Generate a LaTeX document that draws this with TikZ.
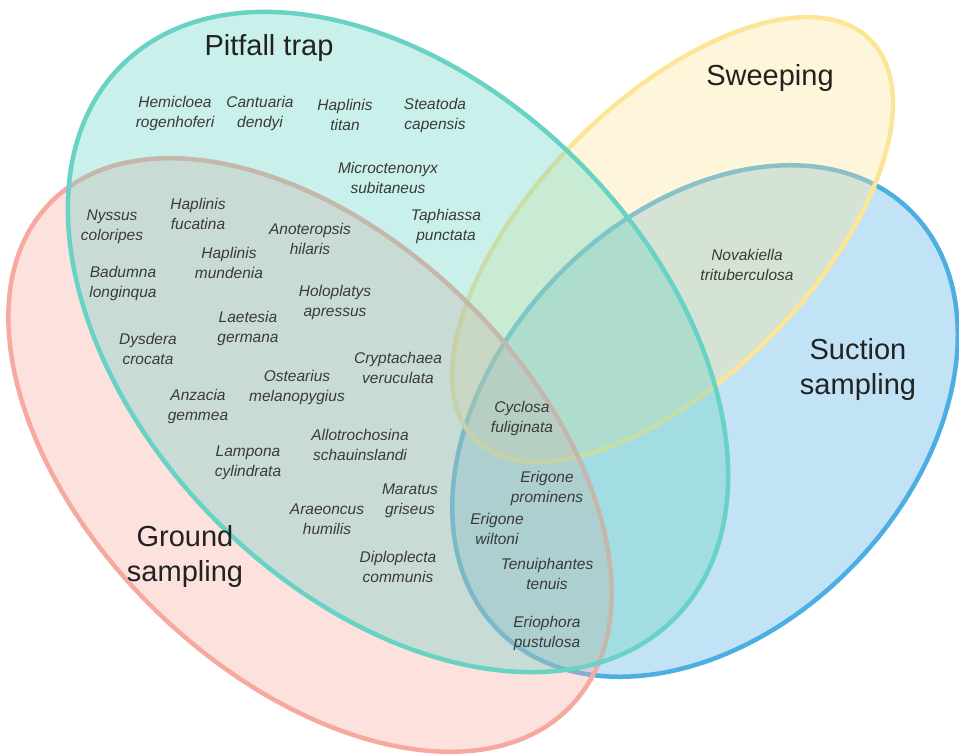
\documentclass[tikz,border=0pt]{standalone}
\usepackage{fontspec}
\setmainfont{Liberation Sans}
\definecolor{tealc}{HTML}{68D3C5}
\definecolor{redc}{HTML}{F7A99F}
\definecolor{yelc}{HTML}{FDE597}
\definecolor{bluec}{HTML}{4DAEE3}
\definecolor{txt}{HTML}{3A3A3A}
\definecolor{ttl}{HTML}{222222}
\begin{document}
\begin{tikzpicture}[x=1pt,y=1pt,
  setshape/.style={line width=4.5pt, fill opacity=0.35, draw opacity=1},
  species/.style={align=center, inner sep=0pt, text=txt,
    font=\fontsize{15.5}{20}\selectfont\itshape},
  settitle/.style={align=center, inner sep=0pt, text=ttl,
    font=\fontsize{29}{35}\selectfont}]
\useasboundingbox (0,0) rectangle (959,-755);
% sets
\draw[setshape, draw=bluec, fill=bluec, rotate around={46:(705,-421)}]
  (705,-421) ellipse [x radius=294pt, y radius=207pt];
\draw[setshape, draw=yelc, fill=yelc, rotate around={45.4:(672.5,-239.5)}]
  (672.5,-239.5) ellipse [x radius=281pt, y radius=138pt];
\draw[setshape, draw=redc, fill=redc, rotate around={-44:(310,-455)}]
  (310,-455) ellipse [x radius=362pt, y radius=219pt];
\draw[setshape, draw=tealc, fill=tealc, rotate around={-45:(398,-342)}]
  (398,-342) ellipse [x radius=391pt, y radius=255pt];
% titles
\node[settitle] (tpit) at (269,-48) {Pitfall trap};
\node[settitle] (tswe) at (770,-78) {Sweeping};
\node[settitle] (tsuc) at (858,-369) {Suction\\sampling};
\node[settitle] (tgro) at (185,-556) {Ground\\sampling};
% species
\node[species] (s1) at (175,-113) {Hemicloea\\rogenhoferi};
\node[species] (s2) at (260,-113) {Cantuaria\\dendyi};
\node[species] (s3) at (345,-115) {Haplinis\\titan};
\node[species] (s4) at (435,-115) {Steatoda\\capensis};
\node[species] (s5) at (388,-178) {Microctenonyx\\subitaneus};
\node[species] (s6) at (112,-227) {Nyssus\\coloripes};
\node[species] (s7) at (198,-214) {Haplinis\\fucatina};
\node[species] (s8) at (310,-239) {Anoteropsis\\hilaris};
\node[species] (s9) at (446,-226) {Taphiassa\\punctata};
\node[species] (s10) at (229,-263) {Haplinis\\mundenia};
\node[species] (s11) at (123,-283) {Badumna\\longinqua};
\node[species] (s12) at (335,-302) {Holoplatys\\apressus};
\node[species] (s13) at (248,-328) {Laetesia\\germana};
\node[species] (s14) at (148,-349) {Dysdera\\crocata};
\node[species] (s15) at (398,-368) {Cryptachaea\\veruculata};
\node[species] (s16) at (297,-387) {Ostearius\\melanopygius};
\node[species] (s17) at (198,-406) {Anzacia\\gemmea};
\node[species] (s18) at (522,-418) {Cyclosa\\fuliginata};
\node[species] (s19) at (360,-445) {Allotrochosina\\schauinslandi};
\node[species] (s20) at (248,-463) {Lampona\\cylindrata};
\node[species] (s21) at (547,-488) {Erigone\\prominens};
\node[species] (s22) at (410,-501) {Maratus\\griseus};
\node[species] (s23) at (327,-519) {Araeoncus\\humilis};
\node[species] (s24) at (497,-529) {Erigone\\wiltoni};
\node[species] (s25) at (398,-567) {Diploplecta\\communis};
\node[species] (s26) at (547,-574) {Tenuiphantes\\tenuis};
\node[species] (s27) at (547,-633) {Eriophora\\pustulosa};
\node[species] (s28) at (747,-265) {Novakiella\\trituberculosa};
\end{tikzpicture}
\end{document}
